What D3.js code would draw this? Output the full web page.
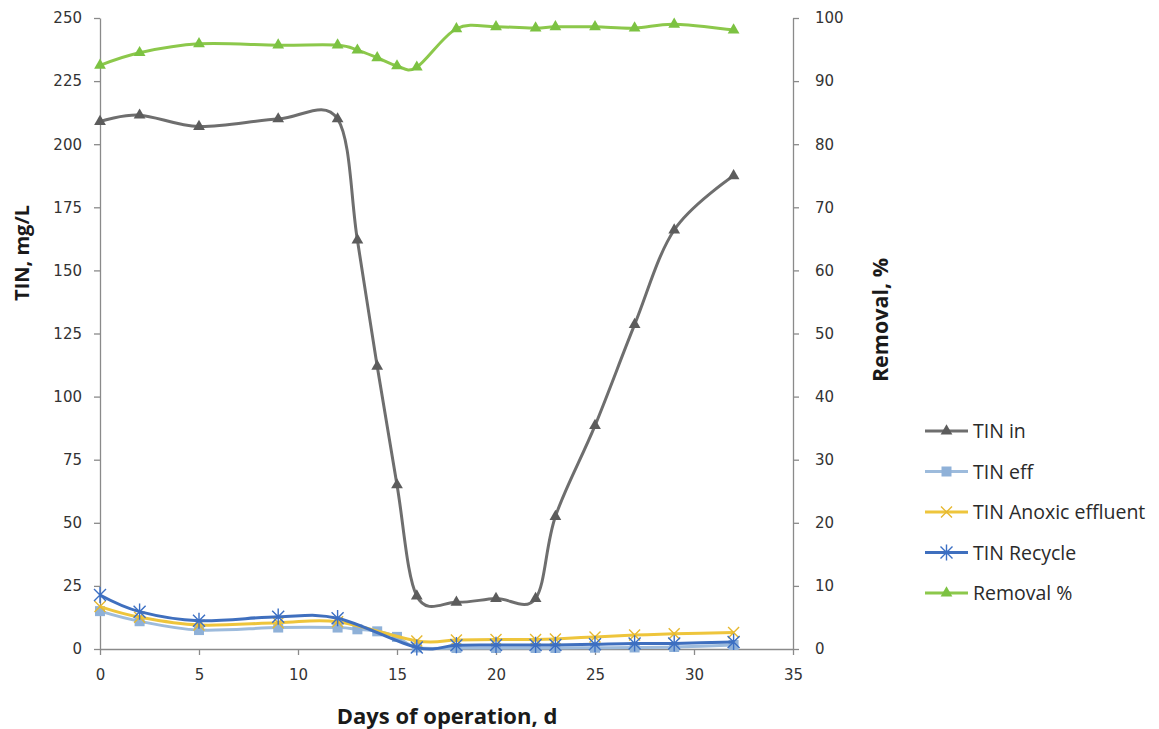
<!DOCTYPE html>
<html>
<head>
<meta charset="utf-8">
<script src="https://cdn.jsdelivr.net/npm/d3@7"></script>
<style>
  body { margin: 0; background: white; }
  text { font-family: "DejaVu Sans", sans-serif; }
</style>
</head>
<body>
<div id="chart"></div>
<script>
// days of operation
const days = [0, 2, 5, 9, 12, 13, 14, 15, 16, 18, 20, 22, 23, 25, 27, 29, 32];
const tinIn = [209, 211.5, 207, 210, 210, 162, 112, 65, 21, 18.5, 20, 20, 52.5, 88.5, 128.5, 166, 187.5];
const tinEff = [15, 11, 7.5, 8.5, 8.5, 7.8, 7, 4.8, 0.6, 0.4, 0.4, 0.4, 0.4, 0.5, 0.6, 0.8, 1.6];
// anoxic + recycle were not sampled on days 13-15
const daysB = [0, 2, 5, 9, 12, 16, 18, 20, 22, 23, 25, 27, 29, 32];
const tinAnoxic = [16.8, 12.6, 9.5, 10.4, 10.8, 3.2, 3.6, 3.8, 3.8, 4, 4.8, 5.5, 6, 6.5];
const tinRecycle = [21.4, 14.8, 11.2, 12.8, 12.2, 0.6, 1.5, 1.6, 1.6, 1.6, 1.9, 2.2, 2.2, 2.8];
const removal = [92.5, 94.5, 95.9, 95.7, 95.7, 94.9, 93.7, 92.4, 92.2, 98.3, 98.6, 98.4, 98.6, 98.6, 98.4, 99, 98.1];

const xTicks = [0, 5, 10, 15, 20, 25, 30, 35];
const yLeftTicks = [0, 25, 50, 75, 100, 125, 150, 175, 200, 225, 250];
const yRightTicks = [0, 10, 20, 30, 40, 50, 60, 70, 80, 90, 100];

const W = 1159, H = 729;
var svg = d3.select('#chart').append('svg').attr('width', W).attr('height', H);

var x = d3.scaleLinear().domain([0, 35]).range([100, 793]);
var yL = d3.scaleLinear().domain([0, 250]).range([649, 18]);
var yR = d3.scaleLinear().domain([0, 100]).range([649, 18]);

var axisColor = '#8a8a8a';
function styleAxis(g){
  g.selectAll('path.domain').attr('stroke', axisColor).attr('stroke-width', 1.3);
  g.selectAll('.tick line').attr('stroke', axisColor).attr('stroke-width', 1.3);
  g.selectAll('.tick text').attr('fill', '#333').style('font-size', '15px')
    .style('font-family', '"DejaVu Sans", sans-serif');
}

svg.append('g').attr('transform', 'translate(0,649)')
  .call(d3.axisBottom(x).tickValues(xTicks).tickSize(6).tickSizeOuter(0).tickPadding(14))
  .call(styleAxis);
svg.append('g').attr('transform', 'translate(100,0)')
  .call(d3.axisLeft(yL).tickValues(yLeftTicks).tickSize(6).tickSizeOuter(0).tickPadding(12))
  .call(styleAxis);
svg.append('g').attr('transform', 'translate(793,0)')
  .call(d3.axisRight(yR).tickValues(yRightTicks).tickSize(6).tickSizeOuter(0).tickPadding(16))
  .call(styleAxis);

// axis titles
function title(t, tr, size){
  return svg.append('text').text(t)
    .attr('transform', tr).attr('text-anchor', 'middle')
    .style('font-family', '"Open Sans", sans-serif')
    .style('font-weight', 'bold').style('font-size', size + 'px').attr('fill', '#1a1a1a');
}
title('Days of operation, d', 'translate(447,724)', 22);
title('TIN, mg/L', 'translate(29,253) rotate(-90)', 20);
title('Removal, %', 'translate(888,320) rotate(-90)', 21.5);

// marker shapes
function triPath(s){ return d3.symbol(d3.symbolTriangle).size(s)(); }
function squarePath(s){ return d3.symbol(d3.symbolSquare).size(s)(); }
function xPath(r){ return `M${-r},${-r}L${r},${r}M${-r},${r}L${r},${-r}`; }
function starPath(r){ return xPath(r) + `M0,${-r * 1.35}L0,${r * 1.35}`; }

const series = [
  {name: 'TIN in', xs: days, ys: tinIn, scale: yL, color: '#6e6e6e', mcolor: '#5c5c5c', marker: 'tri', width: 3},
  {name: 'TIN eff', xs: days, ys: tinEff, scale: yL, color: '#9dbbdc', mcolor: '#8fb1d8', marker: 'square', width: 3},
  {name: 'TIN Anoxic effluent', xs: daysB, ys: tinAnoxic, scale: yL, color: '#eec53c', mcolor: '#e6b830', marker: 'x', width: 3},
  {name: 'TIN Recycle', xs: daysB, ys: tinRecycle, scale: yL, color: '#3f6fbe', mcolor: '#3b6fc4', marker: 'star', width: 3},
  {name: 'Removal %', xs: days, ys: removal, scale: yR, color: '#8cc84b', mcolor: '#7cc242', marker: 'tri', width: 3}
];

function markerPath(m){
  if (m == 'tri') return triPath(60);
  if (m == 'square') return squarePath(100);
  if (m == 'x') return xPath(5.5);
  return starPath(6);
}
function drawMarker(g, s){
  var p = g.append('path').attr('d', markerPath(s.marker));
  if (s.marker == 'x' || s.marker == 'star')
    p.attr('fill', 'none').attr('stroke', s.mcolor).attr('stroke-width', 1.4);
  else p.attr('fill', s.mcolor);
}

var line = d3.line().curve(d3.curveCardinal.tension(0));

// draw order: removal, tin in, eff, anoxic, recycle
const order = [4, 0, 1, 2, 3];
for (const i of order){
  var s = series[i];
  var pts = s.xs.map((d, j) => [x(d), s.scale(s.ys[j])]);
  var g = svg.append('g');
  g.append('path').attr('d', line(pts)).attr('fill', 'none')
    .attr('stroke', s.color).attr('stroke-width', s.width);
  g.selectAll('g.m').data(pts).enter().append('g')
    .attr('transform', d => `translate(${d[0]},${d[1]})`)
    .each(function(){ drawMarker(d3.select(this), s); });
}

// legend
var leg = svg.append('g');
var rows = leg.selectAll('g').data(series).enter().append('g')
  .attr('transform', (d, i) => `translate(925, ${431 + 40.5 * i})`);
rows.append('line').attr('x1', 0).attr('x2', 43)
  .attr('stroke', d => d.color).attr('stroke-width', 3);
rows.each(function(d){
  var g = d3.select(this).append('g').attr('transform', 'translate(21.5,0)');
  drawMarker(g, d);
});
rows.append('text').text(d => d.name).attr('x', 48).attr('y', 7)
  .style('font-family', '"Open Sans", sans-serif')
  .style('font-size', '19.5px').attr('fill', '#2a2a2a');
</script>
</body>
</html>
